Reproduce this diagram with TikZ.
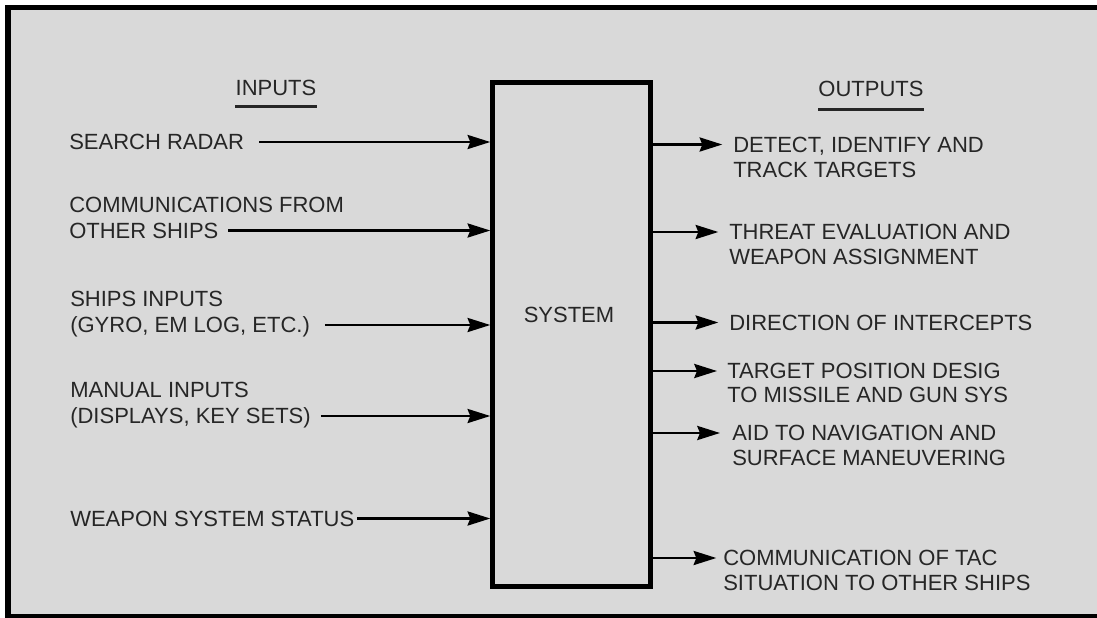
\documentclass[tikz,border=0pt]{standalone}
\usepackage{fontspec}
\setmainfont{Liberation Sans}
\usetikzlibrary{arrows.meta,positioning}
\definecolor{panelGrey}{HTML}{D9D9D9}
\definecolor{inkGrey}{HTML}{262626}

\begin{document}
\begin{tikzpicture}[
  x=0.75pt, y=-0.75pt,
  font=\fontsize{16.5}{18}\selectfont,
  lab/.style={anchor=west, inner sep=0pt, text height=11.8pt, text depth=0pt, text=inkGrey},
  head/.style={inner sep=0pt, text height=11.8pt, text depth=0pt, text=inkGrey},
  flow/.style={line width=2.1pt, -{Stealth[length=17pt, width=10.5pt, inset=2pt]}},
  rule/.style={line width=2.4pt, inkGrey}
]

% Frame (open on the right, cut by the page edge)
\useasboundingbox (0,0) rectangle (1097,618);
\fill[white] (0,0) rectangle (1097,618);
\fill[panelGrey] (8,7.5) rectangle (1097,617);
\draw[black, line width=4.2pt] (1097,7.5) -- (8,7.5) -- (8,617) -- (1097,617);

% System block
\node[draw=black, line width=3.6pt, minimum width=118.5pt, minimum height=378pt, inner sep=0pt] (sys) at (571.7,334.7) {};
\node[head] (systxt) at (569,315) {SYSTEM};

% Column headings
\node[head] (inhd) at (276,88) {INPUTS};
\draw[rule] ([yshift=-8pt]inhd.south west) -- ([yshift=-8pt]inhd.south east);
\node[head] (outhd) at (871,89) {OUTPUTS};
\draw[rule] ([yshift=-9pt]outhd.south west) -- ([yshift=-9pt]outhd.south east);

% Inputs
\node[lab] (radar) at (69,142) {SEARCH RADAR};
\node[lab] (comm1) at (69,205) {COMMUNICATIONS FROM};
\node[lab] (comm2) at (69,230.5) {OTHER SHIPS};
\node[lab] (ship1) at (70,299) {SHIPS INPUTS};
\node[lab] (ship2) at (70,325) {(GYRO, EM LOG, ETC.)};
\node[lab] (man1) at (70,390) {MANUAL INPUTS};
\node[lab] (man2) at (70,416) {(DISPLAYS, KEY SETS)};
\node[lab] (weap) at (70,518.5) {WEAPON SYSTEM STATUS};

\draw[flow] ([xshift=11pt]radar.east) -- (radar.east -| sys.west);
\draw[flow] ([xshift=7pt]comm2.east) -- (comm2.east -| sys.west);
\draw[flow] ([xshift=11pt]ship2.east) -- (ship2.east -| sys.west);
\draw[flow] ([xshift=7.5pt]man2.east) -- (man2.east -| sys.west);
\draw[flow] ([xshift=2pt]weap.east) -- (weap.east -| sys.west);

% Outputs
\node[lab] (det1) at (733,144.5) {DETECT, IDENTIFY AND};
\node[lab] (det2) at (733,170) {TRACK TARGETS};
\node[lab] (thr1) at (729,232) {THREAT EVALUATION AND};
\node[lab] (thr2) at (729,256.5) {WEAPON ASSIGNMENT};
\node[lab] (dir) at (729,322.5) {DIRECTION OF INTERCEPTS};
\node[lab] (tgt1) at (727,371) {TARGET POSITION DESIG};
\node[lab] (tgt2) at (727,395) {TO MISSILE AND GUN SYS};
\node[lab] (nav1) at (732,433) {AID TO NAVIGATION AND};
\node[lab] (nav2) at (732,458) {SURFACE MANEUVERING};
\node[lab] (tac1) at (723,558) {COMMUNICATION OF TAC};
\node[lab] (tac2) at (723,583) {SITUATION TO OTHER SHIPS};

\draw[flow, shorten >=8pt] (det1.west -| sys.east) -- (det1.west);
\draw[flow, shorten >=8pt] (thr1.west -| sys.east) -- (thr1.west);
\draw[flow, shorten >=8pt] (dir.west -| sys.east) -- (dir.west);
\draw[flow, shorten >=7.5pt] (tgt1.west -| sys.east) -- (tgt1.west);
\draw[flow, shorten >=9pt] (nav1.west -| sys.east) -- (nav1.west);
\draw[flow, shorten >=5pt] (tac1.west -| sys.east) -- (tac1.west);

\end{tikzpicture}
\end{document}
